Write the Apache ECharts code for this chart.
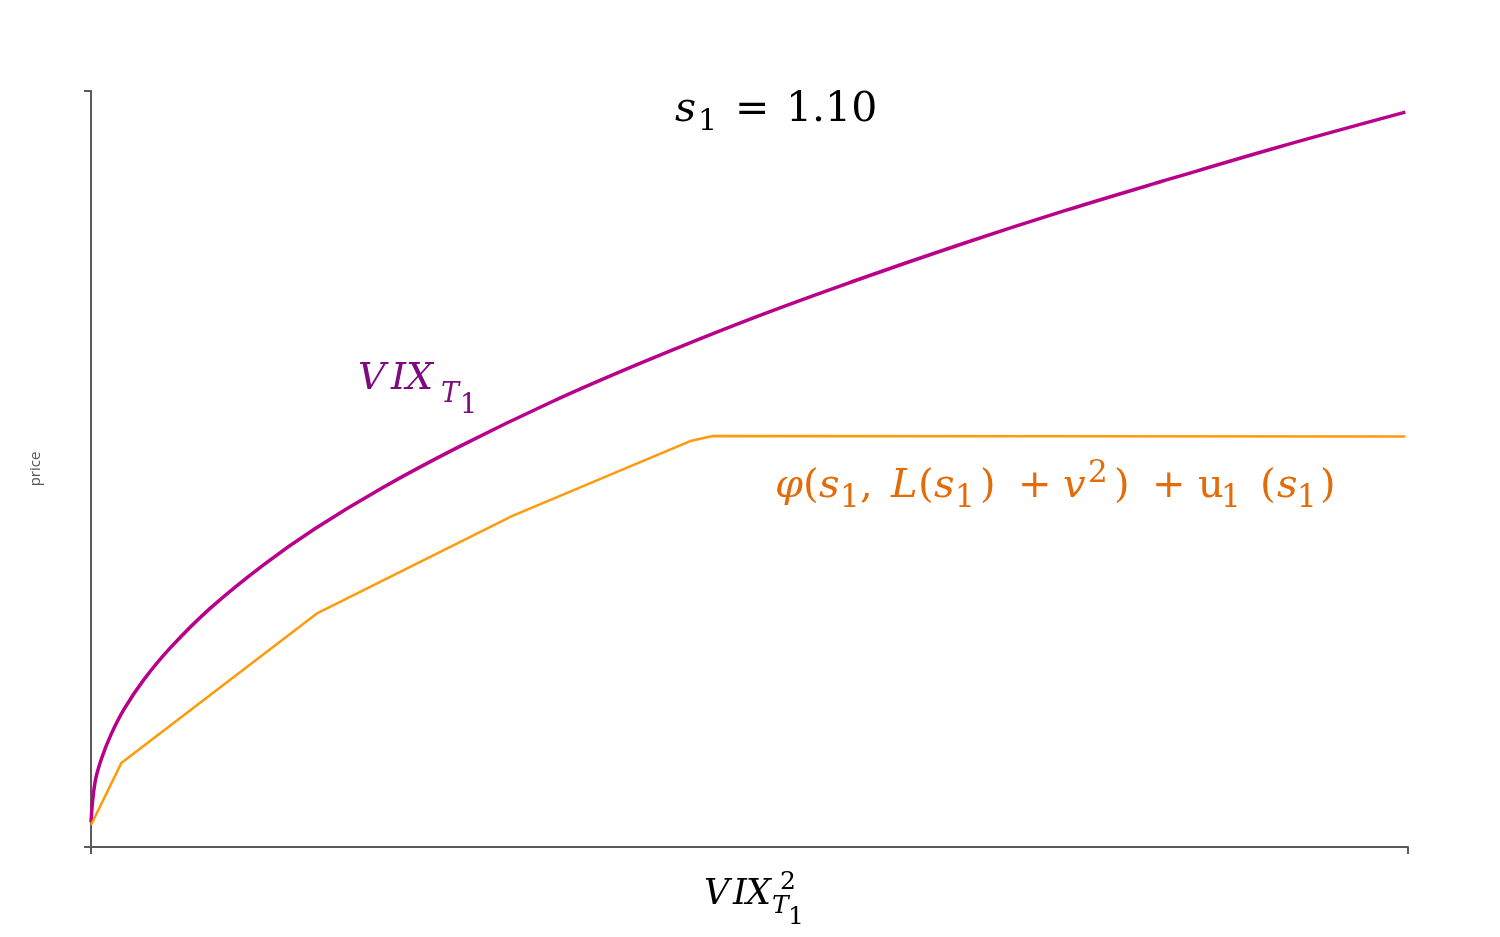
<!DOCTYPE html>
<html>
<head>
<meta charset="utf-8">
<script src="https://cdn.jsdelivr.net/npm/echarts@6/dist/echarts.min.js"></script>
<style>html,body{margin:0;padding:0;background:#fff}#c{width:1500px;height:937px}</style>
</head>
<body>
<div id="c"></div>
<script>
// Data (x and y normalised to 0..1 along each axis)
const purpleX = [0, 0.003, 0.008, 0.015, 0.025, 0.04, 0.06, 0.09, 0.13, 0.17, 0.22, 0.28, 0.35, 0.42, 0.5, 0.58, 0.66, 0.74, 0.82, 0.9, 0.998];
const purpleY = [0.033, 0.085, 0.117, 0.148, 0.182, 0.221, 0.263, 0.315, 0.372, 0.421, 0.474, 0.530, 0.589, 0.642, 0.698, 0.749, 0.797, 0.842, 0.884, 0.925, 0.972];
const orangeX = [0, 0.023, 0.172, 0.320, 0.455, 0.472, 0.998];
const orangeY = [0.029, 0.111, 0.3095, 0.438, 0.537, 0.5437, 0.543];
const axisMin = 0, axisMax = 1;
const yAxisName = 'price';

// Text pieces: [text, x, baseline, size, italic]
const titlePieces = [['s', 675, 123, 41, true], ['1', 698, 132, 30, false], ['=', 735, 123, 41, false], ['1.10', 786, 123, 41, false]];
const purpleLabel = [['V', 358, 391, 38, true], ['I', 391, 391, 38, true], ['X', 406, 391, 38, true], ['T', 441, 404, 27, true], ['1', 460, 415, 27, false]];
const xLabel = [['V', 704, 906, 35, true], ['I', 733, 906, 35, true], ['X', 746, 906, 35, true], ['2', 780, 890, 25, false], ['T', 772, 914, 25, true], ['1', 788, 925, 25, false]];
const orangeLabel = [
  ['φ', 775, 499, 40, true], ['(', 803, 499, 40, false], ['s', 819, 499, 40, true], ['1', 840, 509, 31, false], [',', 860, 499, 40, false],
  ['L', 891, 499, 40, true], ['(', 918, 499, 40, false], ['s', 934, 499, 40, true], ['1', 955, 509, 31, false], [')', 980, 499, 40, false],
  ['+', 1018, 499, 40, false], ['v', 1063, 499, 40, true], ['2', 1088, 484, 31, false], [')', 1114, 499, 40, false],
  ['+', 1152, 499, 40, false], ['u', 1198, 499, 40, false], ['1', 1221, 509, 31, false], ['(', 1260, 499, 40, false],
  ['s', 1277, 499, 40, true], ['1', 1297, 509, 31, false], [')', 1320, 499, 40, false]
];

const chart = echarts.init(document.getElementById('c'));
const serif = '"DejaVu Serif", "Liberation Serif", serif';
const MID = 0.32;
function pieces(list, color) {
  return list.map(p => ({
    type: 'text', x: p[1], y: p[2] - MID * p[3], silent: true,
    style: {text: p[0], fontFamily: serif, fontSize: p[3], fontStyle: p[4] ? 'italic' : 'normal',
      fill: color, align: 'left', verticalAlign: 'middle'}
  }));
}
const axisStyle = {
  axisLine: {show: true, lineStyle: {color: '#5a5a5a', width: 2}},
  axisTick: {show: true, length: 7, lineStyle: {color: '#5a5a5a', width: 2}},
  axisLabel: {show: false},
  splitLine: {show: false}
};
chart.setOption({
  animation: false,
  grid: {left: 91, right: 92, top: 91, bottom: 90},
  xAxis: Object.assign({type: 'value', min: axisMin, max: axisMax, interval: 1}, axisStyle),
  yAxis: Object.assign({type: 'value', min: axisMin, max: axisMax, interval: 1, name: yAxisName, nameLocation: 'middle', nameGap: 48,
    nameTextStyle: {fontFamily: '"Open Sans", sans-serif', fontSize: 15, color: '#555'}}, axisStyle),
  series: [
    {type: 'line', data: purpleX.map((x, i) => [x, purpleY[i]]), smooth: 0.4, showSymbol: false,
      lineStyle: {color: '#b8008a', width: 3.5}},
    {type: 'line', data: orangeX.map((x, i) => [x, orangeY[i]]), showSymbol: false,
      lineStyle: {color: '#ff9a0a', width: 2.5}}
  ],
  graphic: [].concat(
    pieces(titlePieces, '#000'),
    pieces(purpleLabel, '#7d0a80'),
    pieces(xLabel, '#000'),
    pieces(orangeLabel, '#e36c0a')
  )
});
</script>
</body>
</html>
